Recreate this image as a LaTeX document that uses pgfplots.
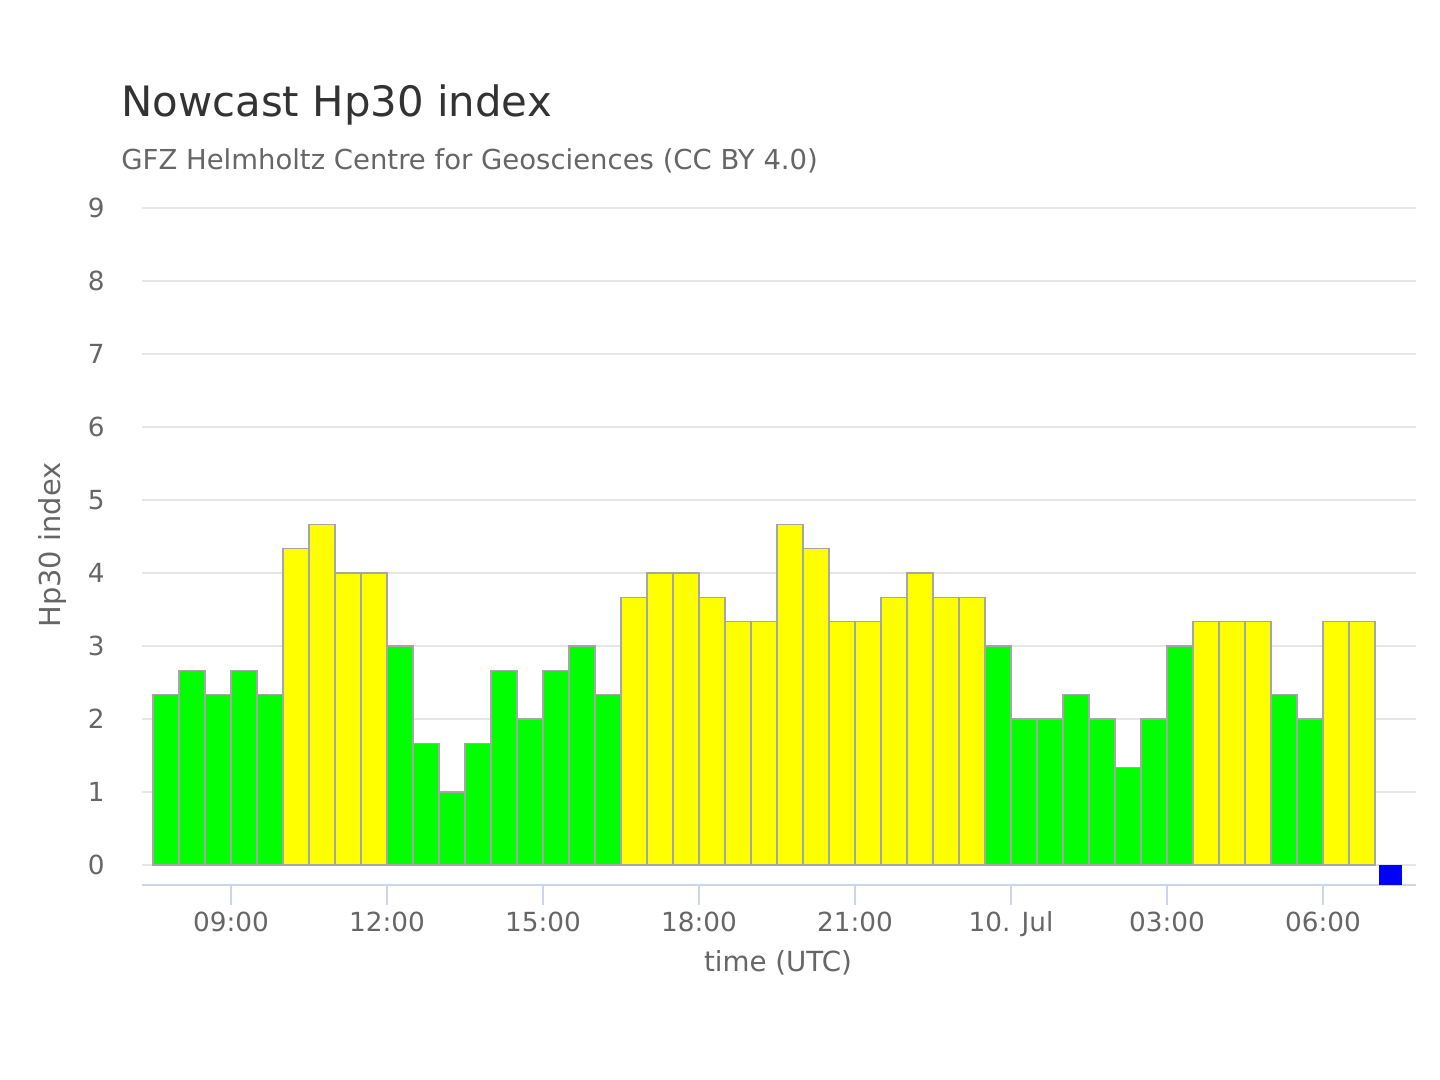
\documentclass[border=0pt]{standalone}
\usepackage{fontspec}
\setmainfont{DejaVu Sans}
\usepackage{pgfplots}
\pgfplotsset{compat=1.18}
\definecolor{hpgreen}{HTML}{00FF00}
\definecolor{hpyellow}{HTML}{FFFF00}
\definecolor{hpblue}{HTML}{0000FF}
\definecolor{textdark}{HTML}{333333}
\definecolor{textgray}{HTML}{666666}
\definecolor{gridcol}{HTML}{E6E6E6}
\definecolor{axiscol}{HTML}{CCD6EB}
\definecolor{bargray}{HTML}{A6A6A6}
\begin{document}
\begin{tikzpicture}
\useasboundingbox (0,0) rectangle (720bp,540bp);
\begin{axis}[
  at={(71bp,97.5bp)}, anchor=south west,
  scale only axis, width=637bp, height=338.5bp,
  xmin=7.2885, xmax=31.788, ymin=-0.274, ymax=9,
  axis x line*=bottom, axis y line*=left,
  x axis line style={draw=axiscol, line width=0.6bp},
  y axis line style={draw=none},
  xtick={9,12,15,18,21,24,27,30},
  xticklabels={09:00,12:00,15:00,18:00,21:00,10. Jul,03:00,06:00},
  ytick={0,1,2,3,4,5,6,7,8,9},
  /pgf/number format/assume math mode=true,
  tick align=outside,
  x tick style={draw=axiscol, line width=0.6bp},
  y tick style={draw=none},
  major tick length=10bp,
  ymajorgrids, grid style={draw=gridcol, line width=0.6bp},
  xticklabel style={font=\fontsize{13.2}{15}\selectfont, text=textgray, anchor=base, inner sep=0pt, yshift=-13bp},
  yticklabel style={font=\fontsize{13.2}{15}\selectfont, text=textgray, anchor=east, inner sep=0pt, xshift=-8.5bp},
]
\addplot[ybar, bar width=0.5, bar shift=0pt, fill=hpgreen, draw=bargray, line width=0.6bp] table {
x y
7.75 2.333
8.25 2.667
8.75 2.333
9.25 2.667
9.75 2.333
12.25 3
12.75 1.667
13.25 1
13.75 1.667
14.25 2.667
14.75 2
15.25 2.667
15.75 3
16.25 2.333
23.75 3
24.25 2
24.75 2
25.25 2.333
25.75 2
26.25 1.333
26.75 2
27.25 3
29.25 2.333
29.75 2
};
\addplot[ybar, bar width=0.5, bar shift=0pt, fill=hpyellow, draw=bargray, line width=0.6bp] table {
x y
10.25 4.333
10.75 4.667
11.25 4
11.75 4
16.75 3.667
17.25 4
17.75 4
18.25 3.667
18.75 3.333
19.25 3.333
19.75 4.667
20.25 4.333
20.75 3.333
21.25 3.333
21.75 3.667
22.25 4
22.75 3.667
23.25 3.667
27.75 3.333
28.25 3.333
28.75 3.333
30.25 3.333
30.75 3.333
};
\addplot[ybar, bar width=0.43, bar shift=0pt, fill=hpblue, draw=none] table {
x y
31.3 -0.274
};
\end{axis}
\node[anchor=base west, text=textdark, font=\fontsize{21}{25}\selectfont, inner sep=0pt] at (60.5bp,481.5bp) {Nowcast Hp30 index};
\node[anchor=base west, text=textgray, font=\fontsize{13.8}{16}\selectfont, inner sep=0pt] at (60.5bp,455bp) {GFZ Helmholtz Centre for Geosciences (CC BY 4.0)};
\node[rotate=90, anchor=base, text=textgray, font=\fontsize{14.5}{17}\selectfont, inner sep=0pt] at (30bp,267.5bp) {Hp30 index};
\node[anchor=base, text=textgray, font=\fontsize{13.9}{16}\selectfont, inner sep=0pt] at (389bp,54bp) {time (UTC)};
\end{tikzpicture}
\end{document}
